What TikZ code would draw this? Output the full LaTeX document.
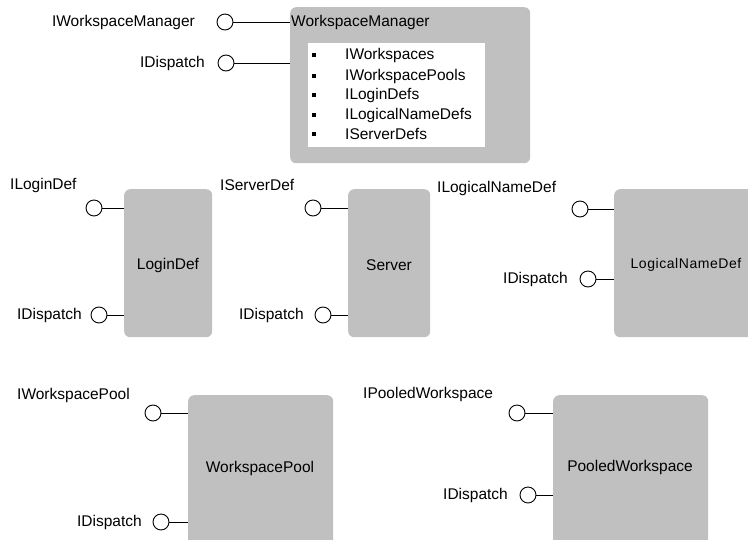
\documentclass[tikz,border=0pt]{standalone}
\usepackage{fontspec}
\setmainfont{Liberation Sans}
\begin{document}
\begin{tikzpicture}[x=1pt,y=-1pt,
  every node/.style={font=\fontsize{15.5}{18}\selectfont, inner sep=0pt},
  comp/.style={fill=boxgray, draw=none, rounded corners=6pt, anchor=north west},
  iface/.style={circle, draw=black, line width=0.9pt, fill=white, minimum size=16pt},
  conn/.style={draw=black, line width=1pt},
  bul/.style={fill=black, minimum size=3.5pt, inner sep=0pt}
]
\definecolor{boxgray}{HTML}{C0C0C0}
\useasboundingbox (0,0) rectangle (748,539);
\clip (0,0) rectangle (748,539);
\fill[white] (0,0) rectangle (748,539);

% ---------- WorkspaceManager ----------
\node[comp, minimum width=240, minimum height=156] (wm) at (290,7) {};
\node[anchor=west] (wmt) at (291,22) {WorkspaceManager};
\node[fill=white, anchor=north west, minimum width=177, minimum height=104] (wml) at (308,43) {};
\foreach \t/\yy [count=\i] in {IWorkspaces/55, IWorkspacePools/76, ILoginDefs/95, ILogicalNameDefs/115, IServerDefs/134}{
  \node[bul] (wmb\i) at (314,\yy) {};
  \node[anchor=west] (wmi\i) at (345,\yy) {\t};
}
\node[iface] (wmc1) at (225,22) {};
\node[anchor=east] (wml1) at (195,22) {IWorkspaceManager};
\node[iface] (wmc2) at (226,63) {};
\node[anchor=east] (wml2) at (205,63) {IDispatch};
\draw[conn] (wmc1.east) -- (wmc1.east -| wm.west);
\draw[conn] (wmc2.east) -- (wmc2.east -| wm.west);

% ---------- LoginDef ----------
\node[comp, minimum width=88, minimum height=148] (ld) at (124,189) {};
\node (ldt) at (168,265) {LoginDef};
\node[iface] (ldc1) at (94,208) {};
\node[anchor=west] (ldl1) at (10,185) {ILoginDef};
\node[iface] (ldc2) at (99,315) {};
\node[anchor=east] (ldl2) at (82,315) {IDispatch};
\draw[conn] (ldc1.east) -- (ldc1.east -| ld.west);
\draw[conn] (ldc2.east) -- (ldc2.east -| ld.west);

% ---------- Server ----------
\node[comp, minimum width=82, minimum height=148] (sv) at (348,189) {};
\node (svt) at (389,265) {Server};
\node[iface] (svc1) at (313,208) {};
\node[anchor=west] (svl1) at (220,185) {IServerDef};
\node[iface] (svc2) at (323,315) {};
\node[anchor=east] (svl2) at (304,315) {IDispatch};
\draw[conn] (svc1.east) -- (svc1.east -| sv.west);
\draw[conn] (svc2.east) -- (svc2.east -| sv.west);

% ---------- LogicalNameDef ----------
\node[comp, minimum width=160, minimum height=148] (ln) at (614,189) {};
\node (lnt) at (686,265) {\fontsize{14}{16}\selectfont\addfontfeature{LetterSpace=4}LogicalNameDef};
\node[iface] (lnc1) at (580,209) {};
\node[anchor=west] (lnl1) at (437,188) {ILogicalNameDef};
\node[iface] (lnc2) at (588,279) {};
\node[anchor=east] (lnl2) at (568,279) {IDispatch};
\draw[conn] (lnc1.east) -- (lnc1.east -| ln.west);
\draw[conn] (lnc2.east) -- (lnc2.east -| ln.west);

% ---------- WorkspacePool ----------
\node[comp, minimum width=145, minimum height=170] (wp) at (188,395) {};
\node (wpt) at (260,468) {WorkspacePool};
\node[iface] (wpc1) at (153,413) {};
\node[anchor=west] (wpl1) at (17,395) {IWorkspacePool};
\node[iface] (wpc2) at (161,522) {};
\node[anchor=east] (wpl2) at (142,522) {IDispatch};
\draw[conn] (wpc1.east) -- (wpc1.east -| wp.west);
\draw[conn] (wpc2.east) -- (wpc2.east -| wp.west);

% ---------- PooledWorkspace ----------
\node[comp, minimum width=155, minimum height=170] (pw) at (553,395) {};
\node (pwt) at (630,467) {PooledWorkspace};
\node[iface] (pwc1) at (517,413) {};
\node[anchor=west] (pwl1) at (363,394) {IPooledWorkspace};
\node[iface] (pwc2) at (528,495) {};
\node[anchor=east] (pwl2) at (508,495) {IDispatch};
\draw[conn] (pwc1.east) -- (pwc1.east -| pw.west);
\draw[conn] (pwc2.east) -- (pwc2.east -| pw.west);
\end{tikzpicture}
\end{document}
